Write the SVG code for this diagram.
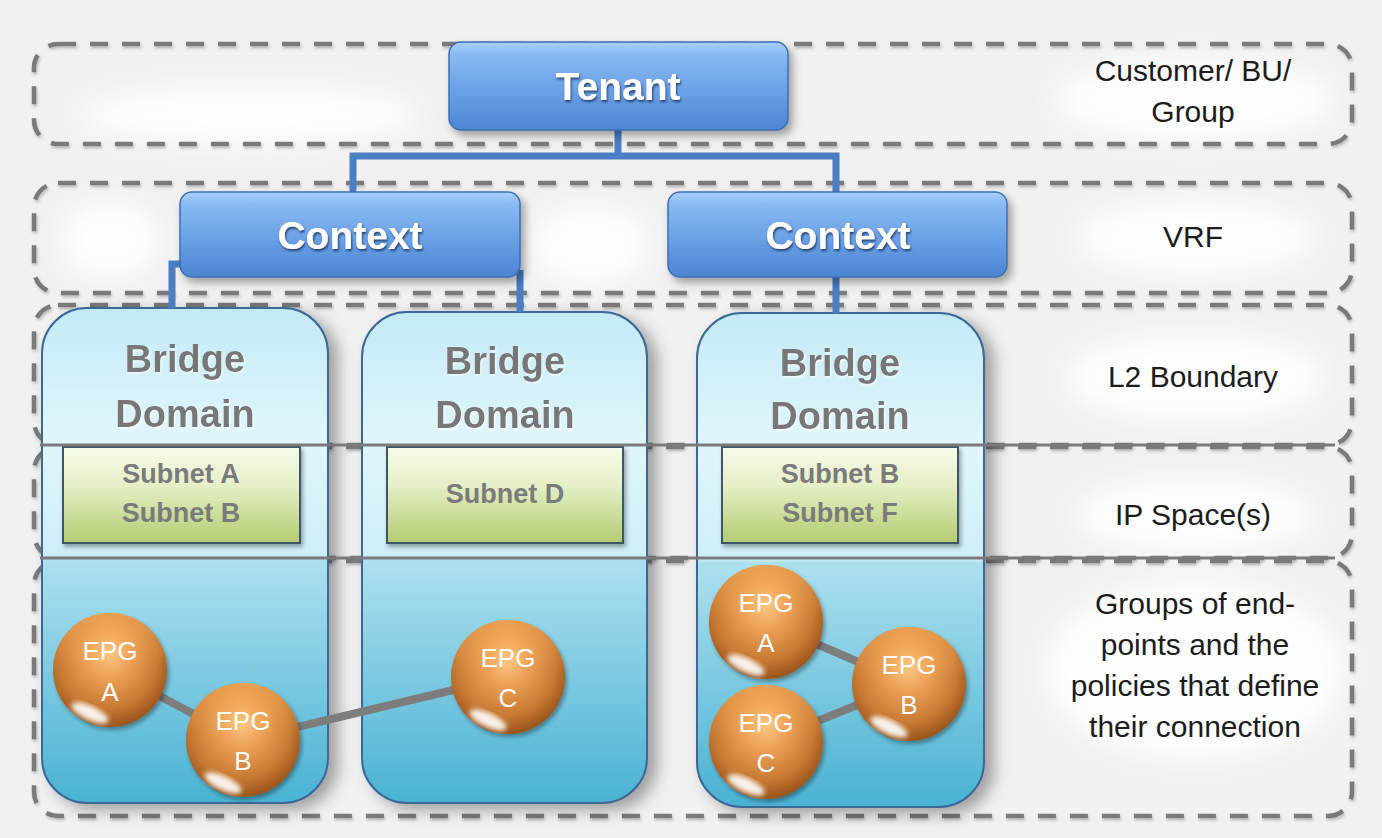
<svg xmlns="http://www.w3.org/2000/svg" width="1382" height="838" viewBox="0 0 1382 838">
  <defs>
    <linearGradient id="gBlue" x1="0" y1="0" x2="0" y2="1">
      <stop offset="0" stop-color="#a9d0f9"/>
      <stop offset="0.15" stop-color="#88b9f2"/>
      <stop offset="0.6" stop-color="#669de4"/>
      <stop offset="1" stop-color="#4c85d2"/>
    </linearGradient>
    <linearGradient id="gBD" x1="0" y1="0" x2="0" y2="1">
      <stop offset="0" stop-color="#c2eaf6"/>
      <stop offset="0.27" stop-color="#e1f6fc"/>
      <stop offset="0.5" stop-color="#cdeef8"/>
      <stop offset="0.505" stop-color="#ade0ef"/>
      <stop offset="1" stop-color="#4ab2d3"/>
    </linearGradient>
    <linearGradient id="gSubnet" x1="0" y1="0" x2="0" y2="1">
      <stop offset="0" stop-color="#f7fbea"/>
      <stop offset="0.4" stop-color="#e5efc6"/>
      <stop offset="1" stop-color="#b2cc70"/>
    </linearGradient>
    <radialGradient id="gEPG" cx="0.47" cy="0.42" r="0.62" fx="0.5" fy="0.35">
      <stop offset="0" stop-color="#fbc887"/>
      <stop offset="0.3" stop-color="#eea257"/>
      <stop offset="0.7" stop-color="#c97a33"/>
      <stop offset="1" stop-color="#8f4c16"/>
    </radialGradient>
    <linearGradient id="gEPGTop" x1="0" y1="0" x2="0" y2="1">
      <stop offset="0" stop-color="#ffb865" stop-opacity="0.55"/>
      <stop offset="0.45" stop-color="#ffb865" stop-opacity="0"/>
    </linearGradient>
    <filter id="fShadow" x="-10%" y="-15%" width="130%" height="140%">
      <feDropShadow dx="4" dy="5" stdDeviation="4" flood-color="#000" flood-opacity="0.35"/>
    </filter>
    <filter id="fBDShadow" x="-15%" y="-10%" width="140%" height="125%">
      <feDropShadow dx="9" dy="6" stdDeviation="8" flood-color="#000" flood-opacity="0.35"/>
    </filter>
    <filter id="fSmall" x="-10%" y="-10%" width="130%" height="130%">
      <feDropShadow dx="2" dy="3" stdDeviation="2" flood-color="#000" flood-opacity="0.35"/>
    </filter>
    <filter id="fText" x="-10%" y="-20%" width="120%" height="150%">
      <feDropShadow dx="1" dy="2" stdDeviation="1.2" flood-color="#1e3a66" flood-opacity="0.9"/>
    </filter>
    <filter id="fGrayText" x="-10%" y="-20%" width="120%" height="150%">
      <feDropShadow dx="1" dy="1.5" stdDeviation="1" flood-color="#ffffff" flood-opacity="0.8"/>
    </filter>
    <filter id="fDash" x="-5%" y="-20%" width="110%" height="140%">
      <feDropShadow dx="1" dy="2" stdDeviation="1.5" flood-color="#000" flood-opacity="0.25"/>
    </filter>
    <filter id="fBlur"><feGaussianBlur stdDeviation="2.5"/></filter>
    <filter id="fHalo" x="-30%" y="-50%" width="160%" height="200%"><feGaussianBlur stdDeviation="14"/></filter>
    <style>
      .band { fill: none; stroke: #7a7a7a; stroke-width: 4.5; stroke-dasharray: 18 14; }
      .divider { stroke: #7a7a7a; stroke-width: 3; }
      .lbl { font-family: "Liberation Sans", Arial, sans-serif; font-size: 30px; fill: #1c1c1c; text-anchor: middle; }
      .hdr { font-family: "Liberation Sans", Arial, sans-serif; font-weight: bold; font-size: 39px; fill: #ffffff; text-anchor: middle; }
      .bdt { font-family: "Liberation Sans", Arial, sans-serif; font-weight: bold; font-size: 38px; fill: #777777; text-anchor: middle; }
      .snt { font-family: "Liberation Sans", Arial, sans-serif; font-weight: bold; font-size: 27px; fill: #7b7b7b; text-anchor: middle; }
      .epgt { font-family: "Liberation Sans", Arial, sans-serif; font-size: 26px; fill: #ffffff; text-anchor: middle; }
      .box { fill: url(#gBlue); stroke: #3d6fb2; stroke-width: 1.5; }
      .bd { fill: url(#gBD); stroke: #3a6897; stroke-width: 2; }
      .subnet { fill: url(#gSubnet); stroke: #3f5566; stroke-width: 2; }
      .epg { fill: url(#gEPG); }
      .epgtop { fill: url(#gEPGTop); }
      .shine { fill: #ffffff; opacity: 0.9; }
      .conn { stroke: #4a7fc4; stroke-width: 7; fill: none; }
      .link { stroke: #7d7d7d; stroke-width: 8; stroke-linecap: round; }
    </style>
  </defs>

  <!-- page background with soft light patches -->
  <rect width="1382" height="838" fill="#f1f1f1"/>
  <g fill="#ffffff" filter="url(#fHalo)" opacity="0.9">
    <ellipse cx="1195" cy="100" rx="140" ry="42"/>
    <ellipse cx="1195" cy="238" rx="120" ry="38"/>
    <ellipse cx="1195" cy="378" rx="130" ry="45"/>
    <ellipse cx="1195" cy="515" rx="120" ry="38"/>
    <ellipse cx="1195" cy="670" rx="150" ry="90"/>
    <ellipse cx="250" cy="115" rx="170" ry="30"/>
    <ellipse cx="110" cy="240" rx="50" ry="40"/>
    <ellipse cx="590" cy="245" rx="60" ry="40"/>
  </g>

  <!-- layer bands -->
  <g id="bands" filter="url(#fDash)">
    <rect class="band" x="34" y="44" width="1318" height="100" rx="24"/>
    <rect class="band" x="34" y="183" width="1318" height="110" rx="24"/>
    <rect class="band" x="34" y="305" width="1318" height="140" rx="24"/>
    <rect class="band" x="34" y="447" width="1318" height="111" rx="24"/>
    <rect class="band" x="34" y="561" width="1318" height="255" rx="24"/>
  </g>

  <!-- bridge domains with their subnets -->
  <g id="bd-1">
    <rect class="bd" x="42" y="308" width="286" height="495" rx="45" filter="url(#fBDShadow)"/>
    <text class="bdt" x="185" y="372" filter="url(#fGrayText)">Bridge</text>
    <text class="bdt" x="185" y="427" filter="url(#fGrayText)">Domain</text>
  </g>
  <g id="bd-2">
    <rect class="bd" x="362" y="312" width="285" height="491" rx="45" filter="url(#fBDShadow)"/>
    <text class="bdt" x="505" y="374" filter="url(#fGrayText)">Bridge</text>
    <text class="bdt" x="505" y="428" filter="url(#fGrayText)">Domain</text>
  </g>
  <g id="bd-3">
    <rect class="bd" x="697" y="313" width="287" height="494" rx="45" filter="url(#fBDShadow)"/>
    <text class="bdt" x="840" y="376" filter="url(#fGrayText)">Bridge</text>
    <text class="bdt" x="840" y="429" filter="url(#fGrayText)">Domain</text>
  </g>
  <g id="subnet-1">
    <rect class="subnet" x="63" y="447" width="237" height="96" filter="url(#fSmall)"/>
    <text class="snt" x="181" y="483">Subnet A</text>
    <text class="snt" x="181" y="522">Subnet B</text>
  </g>
  <g id="subnet-2">
    <rect class="subnet" x="387" y="447" width="236" height="96" filter="url(#fSmall)"/>
    <text class="snt" x="505" y="503">Subnet D</text>
  </g>
  <g id="subnet-3">
    <rect class="subnet" x="722" y="447" width="236" height="96" filter="url(#fSmall)"/>
    <text class="snt" x="840" y="483">Subnet B</text>
    <text class="snt" x="840" y="522">Subnet F</text>
  </g>

  <!-- band borders running across the bridge domains -->
  <g id="band-dividers">
    <line class="divider" x1="40" y1="445" x2="1335" y2="445"/>
    <line class="divider" x1="40" y1="558" x2="1335" y2="558"/>
  </g>

  <!-- connectors -->
  <g id="connectors">
    <path class="conn" d="M618 130 V156"/>
    <path class="conn" d="M353 192 V156 H836 V192"/>
    <path class="conn" d="M182 264 H172 V308"/>
    <path class="conn" d="M520 270 V312"/>
    <path class="conn" d="M836 277 V313"/>
    <line class="link" x1="110" y1="670" x2="243" y2="740"/>
    <line class="link" x1="243" y1="740" x2="508" y2="677"/>
    <line class="link" x1="766" y1="622" x2="909" y2="684"/>
    <line class="link" x1="766" y1="742" x2="909" y2="684"/>
  </g>

  <!-- tenant and contexts -->
  <g id="tenant">
    <rect class="box" x="449" y="42" width="339" height="88" rx="12" filter="url(#fShadow)"/>
    <text class="hdr" x="618" y="100" filter="url(#fText)">Tenant</text>
  </g>
  <g id="context-1">
    <rect class="box" x="180" y="192" width="340" height="85" rx="12" filter="url(#fShadow)"/>
    <text class="hdr" x="350" y="249" filter="url(#fText)">Context</text>
  </g>
  <g id="context-2">
    <rect class="box" x="668" y="192" width="339" height="85" rx="12" filter="url(#fShadow)"/>
    <text class="hdr" x="838" y="249" filter="url(#fText)">Context</text>
  </g>

  <!-- endpoint groups -->
  <g id="epg-1a">
    <circle class="epg" cx="110" cy="670" r="57" filter="url(#fSmall)"/>
    <circle class="epgtop" cx="110" cy="670" r="57"/>
    <ellipse class="shine" cx="90" cy="713" rx="20" ry="7" transform="rotate(25 90 713)" filter="url(#fBlur)"/>
    <text class="epgt" x="110" y="660">EPG</text>
    <text class="epgt" x="110" y="701">A</text>
  </g>
  <g id="epg-1b">
    <circle class="epg" cx="243" cy="740" r="57" filter="url(#fSmall)"/>
    <circle class="epgtop" cx="243" cy="740" r="57"/>
    <ellipse class="shine" cx="223" cy="783" rx="20" ry="7" transform="rotate(25 223 783)" filter="url(#fBlur)"/>
    <text class="epgt" x="243" y="730">EPG</text>
    <text class="epgt" x="243" y="770">B</text>
  </g>
  <g id="epg-2c">
    <circle class="epg" cx="508" cy="677" r="57" filter="url(#fSmall)"/>
    <circle class="epgtop" cx="508" cy="677" r="57"/>
    <ellipse class="shine" cx="488" cy="720" rx="20" ry="7" transform="rotate(25 488 720)" filter="url(#fBlur)"/>
    <text class="epgt" x="508" y="667">EPG</text>
    <text class="epgt" x="508" y="707">C</text>
  </g>
  <g id="epg-3a">
    <circle class="epg" cx="766" cy="622" r="57" filter="url(#fSmall)"/>
    <circle class="epgtop" cx="766" cy="622" r="57"/>
    <ellipse class="shine" cx="746" cy="665" rx="20" ry="7" transform="rotate(25 746 665)" filter="url(#fBlur)"/>
    <text class="epgt" x="766" y="612">EPG</text>
    <text class="epgt" x="766" y="652">A</text>
  </g>
  <g id="epg-3b">
    <circle class="epg" cx="909" cy="684" r="57" filter="url(#fSmall)"/>
    <circle class="epgtop" cx="909" cy="684" r="57"/>
    <ellipse class="shine" cx="889" cy="727" rx="20" ry="7" transform="rotate(25 889 727)" filter="url(#fBlur)"/>
    <text class="epgt" x="909" y="674">EPG</text>
    <text class="epgt" x="909" y="714">B</text>
  </g>
  <g id="epg-3c">
    <circle class="epg" cx="766" cy="742" r="57" filter="url(#fSmall)"/>
    <circle class="epgtop" cx="766" cy="742" r="57"/>
    <ellipse class="shine" cx="746" cy="785" rx="20" ry="7" transform="rotate(25 746 785)" filter="url(#fBlur)"/>
    <text class="epgt" x="766" y="732">EPG</text>
    <text class="epgt" x="766" y="772">C</text>
  </g>

  <!-- layer descriptions -->
  <g id="labels">
    <text class="lbl" x="1193" y="81">Customer/ BU/</text>
    <text class="lbl" x="1193" y="122">Group</text>
    <text class="lbl" x="1193" y="247">VRF</text>
    <text class="lbl" x="1193" y="387">L2 Boundary</text>
    <text class="lbl" x="1193" y="525">IP Space(s)</text>
    <text class="lbl" x="1195" y="614">Groups of end-</text>
    <text class="lbl" x="1195" y="655">points and the</text>
    <text class="lbl" x="1195" y="696">policies that define</text>
    <text class="lbl" x="1195" y="737">their connection</text>
  </g>
</svg>
